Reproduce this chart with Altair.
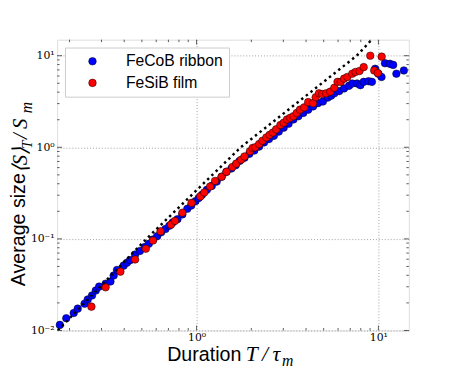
import altair as alt
import pandas as pd

# ---- data ----
blue_x = [0.177, 0.192, 0.211, 0.222, 0.242, 0.252, 0.266, 0.279, 0.291, 0.316, 0.336, 0.350, 0.365, 0.397,
          0.414, 0.431, 0.459, 0.488, 0.519, 0.546, 0.576, 0.607, 0.638, 0.674, 0.708, 0.738, 0.785, 0.835,
          0.889, 0.934, 0.986, 1.027, 1.071, 1.139, 1.212, 1.290, 1.373, 1.460, 1.554, 1.640, 1.723, 1.834,
          1.951, 2.076, 2.209, 2.350, 2.500, 2.661, 2.831, 3.013, 3.205, 3.41, 3.629, 3.862, 4.109, 4.372,
          4.652, 4.95, 5.266, 5.49, 5.72, 6.085, 6.475, 6.89, 7.18, 7.64, 7.96, 8.30, 8.83, 9.21, 9.6, 10.0,
          10.4, 10.87, 11.56, 12.05, 12.56, 13.8]
blue_y = [0.0115, 0.0136, 0.0155, 0.0173, 0.0196, 0.0218, 0.0241, 0.0273, 0.0301, 0.0324, 0.0343, 0.0398,
          0.0458, 0.0510, 0.0549, 0.0586, 0.0674, 0.0738, 0.0815, 0.0884, 0.0984, 0.107, 0.118, 0.128, 0.139,
          0.151, 0.164, 0.185, 0.213, 0.231, 0.258, 0.279, 0.303, 0.343, 0.379, 0.422, 0.477, 0.540, 0.586,
          0.637, 0.708, 0.769, 0.848, 0.921, 1.017, 1.131, 1.228, 1.334, 1.483, 1.638, 1.807, 2.012, 2.184,
          2.371, 2.575, 2.795, 3.035, 3.162, 3.49, 3.66, 3.88, 4.11, 4.39, 4.69, 4.97, 4.97, 4.77, 5.18, 5.27,
          5.18, 7.2, 6.36, 5.86, 8.28, 8.15, 7.94, 6.36, 6.9]

red_x = [0.264, 0.316, 0.381, 0.459, 0.526, 0.576, 0.633, 0.723, 0.760, 0.835, 0.938, 1.049, 1.102, 1.187,
         1.263, 1.373, 1.460, 1.573, 1.653, 1.759, 1.834, 1.967, 2.033, 2.101, 2.209, 2.302, 2.419, 2.521,
         2.628, 2.739, 2.890, 3.013, 3.14, 3.272, 3.41, 3.554, 3.705, 3.908, 4.109, 4.372, 4.519, 4.71,
         4.91, 5.16, 5.44, 5.72, 5.96, 6.21, 6.475, 6.75, 7.18, 7.48, 7.87, 8.30, 9.02, 9.48, 9.92, 10.42]
red_y = [0.0182, 0.0296, 0.0439, 0.0596, 0.0781, 0.0960, 0.121, 0.143, 0.157, 0.193, 0.247, 0.291, 0.321,
         0.373, 0.429, 0.477, 0.540, 0.610, 0.663, 0.732, 0.794, 0.906, 0.984, 1.0, 1.086, 1.179, 1.280,
         1.367, 1.448, 1.571, 1.749, 1.853, 2.012, 2.096, 2.184, 2.371, 2.575, 2.728, 3.11, 3.035, 3.52,
         3.88, 3.82, 3.88, 4.05, 4.47, 5.18, 5.18, 5.62, 5.86, 6.36, 6.63, 6.80, 7.50, 10.0, 6.90, 6.47, 9.76]

guide_x = [0.1726, 0.53, 1.75, 7.6, 9.2]
guide_y = [0.01, 0.1, 1.0, 10.0, 15.0]

series_names = ["FeCoB ribbon", "FeSiB film"]
series_colors = ["#0000ff", "#ff0000"]

x_major = [1, 10]
y_major = [0.01, 0.1, 1, 10]
x_minor = [0.2, 0.3, 0.4, 0.5, 0.6, 0.7, 0.8, 0.9, 2, 3, 4, 5, 6, 7, 8, 9]
y_minor = [0.02, 0.03, 0.04, 0.05, 0.06, 0.07, 0.08, 0.09,
           0.2, 0.3, 0.4, 0.5, 0.6, 0.7, 0.8, 0.9,
           2, 3, 4, 5, 6, 7, 8, 9]

# ---- tables ----
pts = pd.DataFrame({
    "x": blue_x + red_x,
    "y": blue_y + red_y,
    "series": [series_names[0]] * len(blue_x) + [series_names[1]] * len(red_x),
})
guide = pd.DataFrame({"x": guide_x, "y": guide_y})

W, H = 358, 296
xs = alt.Scale(type="log", domain=[0.171, 14.7], nice=False)
ys = alt.Scale(type="log", domain=[0.01, 14.96], nice=False)

x_axis = alt.Axis(values=x_major, labelExpr="datum.value >= 5 ? '10¹' : '10⁰'",
                  grid=True, gridDash=[1, 2], gridColor="#888", gridWidth=0.8,
                  ticks=False, domain=False, labelFont="DejaVu Serif", labelFontSize=11,
                  labelColor="black", labelPadding=1, title=None)
y_axis = alt.Axis(values=y_major,
                  labelExpr="datum.value < 0.05 ? '10⁻²' : datum.value < 0.5 ? '10⁻¹' : datum.value < 5 ? '10⁰' : '10¹'",
                  grid=True, gridDash=[1, 2], gridColor="#888", gridWidth=0.8,
                  ticks=False, domain=False, labelFont="DejaVu Serif", labelFontSize=11,
                  labelColor="black", labelPadding=3, title=None)

points = alt.Chart(pts).mark_circle(size=60, opacity=1, stroke="black", strokeWidth=0.5).encode(
    x=alt.X("x:Q", scale=xs, axis=x_axis),
    y=alt.Y("y:Q", scale=ys, axis=y_axis),
    color=alt.Color("series:N", sort=series_names,
                    scale=alt.Scale(domain=series_names, range=series_colors),
                    legend=alt.Legend(title=None, orient="none", legendX=8, legendY=8,
                                      labelFont="Liberation Sans", labelFontSize=16, labelColor="black",
                                      symbolSize=60, symbolType="circle", symbolStrokeColor="black",
                                      symbolStrokeWidth=0.5, symbolOffset=14, labelOffset=26,
                                      rowPadding=6, padding=6, strokeColor="#cccccc",
                                      fillColor="white", cornerRadius=0)),
)

line = alt.Chart(guide).mark_line(color="black", strokeWidth=2.5, strokeDash=[2.5, 3.5], clip=True).encode(
    x=alt.X("x:Q", scale=xs, axis=x_axis),
    y=alt.Y("y:Q", scale=ys, axis=y_axis),
)


def xticks(vals, ln):
    d = pd.DataFrame({"x": vals})
    b = alt.Chart(d).mark_rule(color="#333", strokeWidth=0.8).encode(
        x=alt.X("x:Q", scale=xs, axis=x_axis), y=alt.value(H), y2=alt.value(H - ln))
    t = alt.Chart(d).mark_rule(color="#333", strokeWidth=0.8).encode(
        x=alt.X("x:Q", scale=xs, axis=x_axis), y=alt.value(0), y2=alt.value(ln))
    return [b, t]


def yticks(vals, ln):
    d = pd.DataFrame({"y": vals})
    l = alt.Chart(d).mark_rule(color="#333", strokeWidth=0.8).encode(
        y=alt.Y("y:Q", scale=ys, axis=y_axis), x=alt.value(0), x2=alt.value(ln))
    r = alt.Chart(d).mark_rule(color="#333", strokeWidth=0.8).encode(
        y=alt.Y("y:Q", scale=ys, axis=y_axis), x=alt.value(W), x2=alt.value(W - ln))
    return [l, r]


def label(txt, x, y, size, font="Liberation Sans", style="normal", angle=0):
    return alt.Chart(alt.Data(values=[{}])).mark_text(
        text=txt, font=font, fontSize=size, fontStyle=style, angle=angle,
        align="left", baseline="alphabetic", color="black").encode(
        x=alt.value(x), y=alt.value(y))


ticks = xticks(x_major, 5) + xticks(x_minor, 2.5) + yticks(y_major, 5) + yticks(y_minor, 2.5)

titles = [
    label("Duration", 112, 327, 20),
    label("T\u2009/\u2009τ", 192, 327, 22, font="Liberation Serif", style="italic"),
    label("m", 229, 332, 16, font="Liberation Serif", style="italic"),
    label("Average size", -33, 251, 20, angle=270),
    label("⟨S⟩", -31, 136, 21, font="Liberation Serif", style="italic", angle=270),
    label("T", -26, 111, 15, font="Liberation Serif", style="italic", angle=270),
    label("\u2009/\u2009S", -31, 101, 21, font="Liberation Serif", style="italic", angle=270),
    label("m", -26, 75, 16, font="Liberation Serif", style="italic", angle=270),
]

chart = alt.layer(points, line, *ticks, *titles).properties(
    width=W, height=H,
    autosize=alt.AutoSizeParams(type="none"),
    padding={"left": 50, "top": 29, "right": 47, "bottom": 38},
).configure_view(stroke="#444", strokeWidth=1).configure(background="white")

chart.save("out.html", embed_options={"renderer": "svg", "actions": False})
